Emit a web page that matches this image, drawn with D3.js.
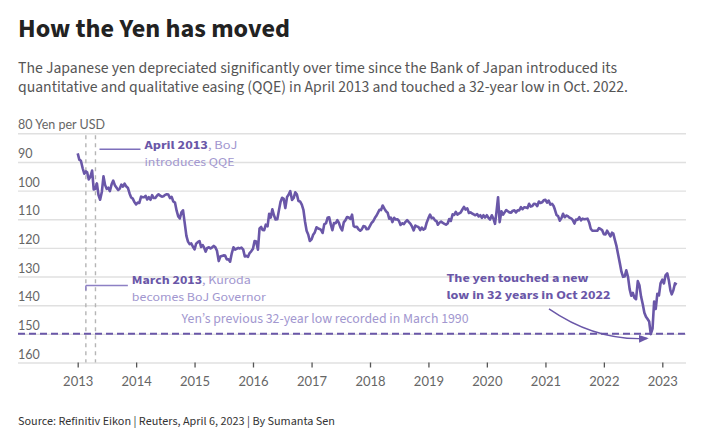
<!DOCTYPE html>
<html>
<head>
<meta charset="utf-8">
<script src="https://cdn.jsdelivr.net/npm/d3@7"></script>
<style>
  body { margin: 0; background: #fff; }
  svg { display: block; font-family: "Source Sans Pro", "Source Sans 3", Lato, sans-serif; }
</style>
</head>
<body>
<svg id="chart" width="702" height="440"></svg>
<script>
// Yen per USD: three readings a month (around the 1st, 11th and 21st)
const days = [1, 11, 21];

const yen2013 = [87.0, 89.2, 89.6, 92.2, 94.1, 93.3, 93.6, 96.1, 95.2, 93.0, 99.6, 99.4,
  97.5, 101.6, 103.2, 100.4, 95.0, 98.0, 99.4, 99.0, 100.2, 97.8, 96.5, 98.1,
  99.0, 99.8, 99.3, 97.9, 98.6, 97.6, 98.6, 99.1, 101.0, 102.4, 102.8, 104.0];
const yen2014 = [104.8, 104.2, 104.3, 102.1, 102.3, 102.3, 101.8, 103.1, 102.3, 103.2, 101.6, 102.6,
  102.6, 101.8, 101.3, 101.8, 102.1, 102.0, 101.5, 101.3, 101.4, 102.6, 102.2, 103.8,
  104.2, 107.0, 109.0, 109.7, 107.6, 106.9, 111.5, 115.8, 117.8, 118.7, 118.4, 119.5];
const yen2015 = [120.5, 118.5, 118.0, 117.6, 119.7, 119.0, 119.8, 121.3, 120.0, 119.8, 120.2, 119.8,
  119.3, 119.8, 121.0, 124.6, 123.0, 122.8, 122.6, 122.7, 124.0, 124.0, 124.8, 122.0,
  119.8, 120.6, 120.3, 120.0, 120.2, 119.9, 120.6, 123.0, 122.8, 123.1, 121.8, 121.2];
const yen2016 = [120.3, 117.6, 117.8, 120.6, 113.2, 112.7, 113.7, 113.8, 111.9, 112.5, 108.1, 109.4,
  106.5, 108.6, 110.1, 110.0, 106.9, 104.0, 102.5, 102.9, 106.1, 102.2, 101.4, 100.2,
  103.3, 102.6, 100.6, 101.3, 103.6, 103.8, 104.9, 106.7, 110.8, 114.0, 115.3, 117.6];
const yen2017 = [117.0, 115.4, 114.6, 112.8, 113.2, 113.4, 113.7, 114.8, 111.8, 111.4, 109.5, 109.3,
  111.8, 113.8, 111.3, 111.4, 110.3, 111.3, 112.9, 113.9, 111.1, 110.3, 109.2, 109.4,
  109.9, 108.4, 112.4, 112.7, 112.6, 113.5, 114.0, 113.5, 112.4, 112.5, 113.5, 113.4];
const yen2018 = [112.3, 111.3, 110.7, 109.5, 108.7, 107.6, 106.7, 106.8, 105.2, 106.3, 107.2, 107.7,
  109.8, 109.4, 111.0, 109.5, 110.1, 110.0, 110.6, 112.0, 111.4, 111.7, 110.9, 110.3,
  111.0, 111.6, 112.6, 113.9, 112.2, 112.5, 112.8, 113.8, 112.9, 113.6, 113.3, 111.2];
const yen2019 = [109.6, 108.4, 109.6, 109.5, 110.4, 110.7, 111.9, 111.2, 110.8, 111.3, 111.6, 111.9,
  111.5, 109.9, 110.6, 108.3, 108.5, 107.4, 108.4, 108.0, 107.7, 106.6, 105.7, 106.6,
  106.2, 107.8, 107.6, 108.0, 108.3, 108.6, 108.2, 109.0, 108.6, 109.5, 108.6, 109.4];
const yen2020 = [108.6, 109.5, 110.1, 108.6, 109.8, 111.6, 107.5, 102.3, 111.0, 107.2, 108.4, 107.6,
  106.8, 107.2, 107.6, 107.7, 107.0, 106.9, 107.6, 106.9, 106.9, 105.8, 106.5, 105.8,
  105.9, 106.1, 104.6, 105.6, 105.4, 104.6, 104.7, 105.4, 103.8, 104.3, 104.1, 103.4];
const yen2021 = [103.2, 104.2, 103.5, 104.9, 104.6, 105.4, 106.6, 108.5, 108.9, 110.5, 109.6, 108.1,
  109.3, 108.7, 108.9, 109.5, 109.7, 110.3, 111.5, 110.1, 110.2, 109.3, 110.4, 109.8,
  110.0, 109.9, 109.8, 111.1, 113.3, 114.0, 114.0, 114.0, 114.0, 113.1, 113.4, 113.8];
const yen2022 = [115.2, 115.3, 114.0, 115.0, 116.0, 114.7, 115.0, 117.3, 119.4, 122.6, 125.4, 128.4,
  130.1, 130.0, 127.8, 130.2, 134.4, 136.7, 135.7, 137.4, 137.9, 131.6, 133.0, 136.9,
  139.7, 142.6, 144.0, 144.8, 145.7, 150.1, 148.2, 138.7, 141.3, 136.0, 136.6, 132.4];
const yen2023 = [131.1, 132.4, 129.6, 128.9, 131.4, 134.9, 136.2, 134.8, 132.4, 132.8];

const yenYears = [2013, 2014, 2015, 2016, 2017, 2018, 2019, 2020, 2021, 2022, 2023];
const yenSeries = [yen2013, yen2014, yen2015, yen2016, yen2017, yen2018, yen2019, yen2020, yen2021, yen2022, yen2023];

const yTicks = [80, 90, 100, 110, 120, 130, 140, 150, 160];
const xTickYears = [2013, 2014, 2015, 2016, 2017, 2018, 2019, 2020, 2021, 2022, 2023];

const previousLow = 150;              // 1990 low line as drawn
const kurodaDate = new Date(2013, 1, 21);
const qqeDate = new Date(2013, 3, 22);

// flatten into points
const data = [];
yenYears.forEach((yr, k) => {
  yenSeries[k].forEach((v, i) => {
    data.push({ date: new Date(yr, Math.floor(i / 3), days[i % 3]), value: v });
  });
});

const svg = d3.select("#chart");
const purple = "#6a57a8";
const lilac = "#a297cf";
const gridLeft = 18, gridRight = 686;

const x = d3.scaleTime()
  .domain([new Date(2013, 0, 1), new Date(2023, 0, 1)])
  .range([77.7, 662.3]);
const y = d3.scaleLinear().domain([80, 160]).range([133.3, 362.5]);

// squeeze text to the width seen in the reference (condensed face)
let fit = (sel, w) => {
  sel.each(function () {
    let len = this.getComputedTextLength();
    if (Math.abs(len - w) > 1) {
      d3.select(this).attr("textLength", w).attr("lengthAdjust", "spacingAndGlyphs");
    }
  });
};

// Title and subtitle
svg.append("text").attr("x", 18).attr("y", 36.5)
  .attr("font-size", 25).attr("font-weight", 700).attr("fill", "#222")
  .text("How the Yen has moved").call(fit, 272);

svg.append("text").attr("x", 18).attr("y", 72.5)
  .attr("font-size", 14.8).attr("fill", "#555")
  .text("The Japanese yen depreciated significantly over time since the Bank of Japan introduced its")
  .call(fit, 599);
svg.append("text").attr("x", 18).attr("y", 91.8)
  .attr("font-size", 14.8).attr("fill", "#555")
  .text("quantitative and qualitative easing (QQE) in April 2013 and touched a 32-year low in Oct. 2022.")
  .call(fit, 610);

// Gridlines + y labels
let yAxis = svg.append("g")
  .attr("transform", `translate(${gridLeft},0)`)
  .call(d3.axisRight(y).tickValues(yTicks).tickSize(gridRight - gridLeft)
    .tickFormat(d => d === 80 ? "80 Yen per USD" : d));
yAxis.select(".domain").remove();
yAxis.selectAll("line").attr("stroke", "#e0e0e0").attr("stroke-width", 1.4);
yAxis.selectAll("text")
  .attr("x", 0).attr("y", -4.5).attr("dy", 0)
  .attr("text-anchor", "start")
  .attr("font-size", 12.5).attr("fill", "#666")
  .attr("font-family", "\"Source Sans Pro\", Lato, sans-serif");

// x axis
let xAxis = svg.append("g")
  .attr("transform", `translate(0,${y(160)})`)
  .call(d3.axisBottom(x)
    .tickValues(xTickYears.map(yr => new Date(yr, 0, 1)))
    .tickSize(5).tickPadding(9)
    .tickFormat(d3.timeFormat("%Y")));
xAxis.select(".domain").remove();
xAxis.selectAll("line").attr("stroke", "#555").attr("stroke-width", 1.3);
xAxis.selectAll("text").attr("font-size", 13).attr("fill", "#666")
  .attr("font-family", "\"Source Sans Pro\", Lato, sans-serif");

// event markers
[kurodaDate, qqeDate].forEach(d => {
  svg.append("line")
    .attr("x1", x(d)).attr("x2", x(d))
    .attr("y1", y(80) + 2).attr("y2", y(160))
    .attr("stroke", "#b5b5b5").attr("stroke-width", 1.4)
    .attr("stroke-dasharray", "4,4");
});

// previous low line
svg.append("line")
  .attr("x1", gridLeft).attr("x2", gridRight)
  .attr("y1", y(previousLow)).attr("y2", y(previousLow))
  .attr("stroke", purple).attr("stroke-width", 2)
  .attr("stroke-dasharray", "7,4");

// the yen line
svg.append("path")
  .datum(data)
  .attr("fill", "none")
  .attr("stroke", purple)
  .attr("stroke-width", 2.6)
  .attr("stroke-linejoin", "round")
  .attr("d", d3.line().x(d => x(d.date)).y(d => y(d.value)));

// annotations
let note = (px, py, bold, rest, w) => {
  let t = svg.append("text").attr("x", px).attr("y", py).attr("font-size", 12);
  t.append("tspan").attr("font-weight", 700).attr("fill", purple).text(bold);
  t.append("tspan").attr("fill", lilac).text(rest);
  t.call(fit, w);
  return t;
};

// April 2013 QQE
svg.append("line")
  .attr("x1", x(qqeDate) + 4).attr("x2", x(qqeDate) + 45)
  .attr("y1", y(85.6)).attr("y2", y(85.6))
  .attr("stroke", "#7d6fbb").attr("stroke-width", 1.5);
note(x(qqeDate) + 49, y(85.6), "April 2013", ", BoJ", 93);
svg.append("text").attr("x", x(qqeDate) + 49).attr("y", y(85.6) + 16.5)
  .attr("font-size", 12).attr("fill", lilac).text("introduces QQE").call(fit, 90);

// March 2013 Kuroda
svg.append("line")
  .attr("x1", x(kurodaDate)).attr("x2", x(kurodaDate) + 42)
  .attr("y1", y(133.1)).attr("y2", y(133.1))
  .attr("stroke", "#8d80c4").attr("stroke-width", 1.5);
svg.append("line")
  .attr("x1", x(kurodaDate)).attr("x2", x(kurodaDate))
  .attr("y1", y(133.1)).attr("y2", y(133.1) + 5)
  .attr("stroke", "#8d80c4").attr("stroke-width", 1.5);
note(x(kurodaDate) + 46, y(133.1) - 1.5, "March 2013", ", Kuroda", 119);
svg.append("text").attr("x", x(kurodaDate) + 46).attr("y", y(133.1) + 15.5)
  .attr("font-size", 12).attr("fill", lilac).text("becomes BoJ Governor").call(fit, 134);

// previous low label
svg.append("text")
  .attr("x", x(new Date(2014, 9, 12))).attr("y", y(previousLow) - 10.5)
  .attr("font-size", 13).attr("fill", lilac)
  .text("Yen\u2019s previous 32-year low recorded in March 1990").call(fit, 287);

// new low label
let lowX = x(new Date(2019, 3, 24));
svg.append("text").attr("x", lowX).attr("y", y(132.25) - 0.5)
  .attr("font-size", 12).attr("font-weight", 700).attr("fill", purple)
  .text("The yen touched a new").call(fit, 142);
svg.append("text").attr("x", lowX).attr("y", y(132.25) + 16)
  .attr("font-size", 12).attr("font-weight", 700).attr("fill", purple)
  .text("low in 32 years in Oct 2022").call(fit, 164);

// curved arrow to the low
svg.append("defs").append("marker")
  .attr("id", "arrow").attr("viewBox", "0 0 10 10")
  .attr("refX", 8).attr("refY", 5)
  .attr("markerWidth", 7).attr("markerHeight", 7)
  .attr("orient", "auto")
  .append("path").attr("d", "M0,1 L10,5 L0,9 Z").attr("fill", purple);

let a0 = [x(new Date(2021, 0, 23)), y(141.3)];
let c0 = [x(new Date(2021, 10, 13)), y(152.6)];
let a1 = [x(new Date(2022, 8, 26)), y(151.6)];
svg.append("path")
  .attr("d", `M${a0[0]},${a0[1]} Q${c0[0]},${c0[1]} ${a1[0]},${a1[1]}`)
  .attr("fill", "none").attr("stroke", purple).attr("stroke-width", 1.4)
  .attr("marker-end", "url(#arrow)");

// source
svg.append("text").attr("x", 18).attr("y", 425)
  .attr("font-size", 11.5).attr("fill", "#333")
  .text("Source: Refinitiv Eikon | Reuters, April 6, 2023 | By Sumanta Sen").call(fit, 317);
</script>
</body>
</html>
